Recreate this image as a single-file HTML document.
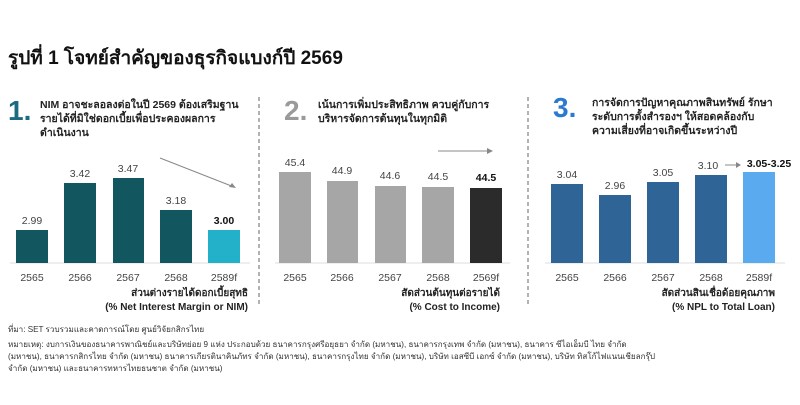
<!DOCTYPE html><html><head><meta charset="utf-8"><style>
body{margin:0;width:800px;height:400px;background:#fff;overflow:hidden;font-family:"Liberation Sans","Noto Sans CJK SC",sans-serif;}
svg text{font-family:"Liberation Sans","Noto Sans CJK SC",sans-serif;}
</style></head><body>
<svg width="800" height="400" xmlns="http://www.w3.org/2000/svg">
<text x="8" y="64" font-size="19" font-weight="bold" fill="#111">รูปที่ 1   โจทย์สำคัญของธุรกิจแบงก์ปี 2569</text>
<text x="8" y="120" font-size="28" font-weight="bold" fill="#1a6a80">1.</text>
<text x="284" y="120" font-size="28" font-weight="bold" fill="#9a9a9a">2.</text>
<text x="553" y="117" font-size="28" font-weight="bold" fill="#2a7ad0">3.</text>
<g font-size="10.5" font-weight="bold" fill="#222">
<text x="40" y="108">NIM อาจชะลอลงต่อในปี 2569 ต้องเสริมฐาน</text>
<text x="40" y="122">รายได้ที่มิใช่ดอกเบี้ยเพื่อประคองผลการ</text>
<text x="40" y="136">ดำเนินงาน</text>
<text x="318" y="108">เน้นการเพิ่มประสิทธิภาพ ควบคู่กับการ</text>
<text x="318" y="122">บริหารจัดการต้นทุนในทุกมิติ</text>
<text x="592" y="106">การจัดการปัญหาคุณภาพสินทรัพย์ รักษา</text>
<text x="592" y="120">ระดับการตั้งสำรองฯ ให้สอดคล้องกับ</text>
<text x="592" y="134">ความเสี่ยงที่อาจเกิดขึ้นระหว่างปี</text>
</g>
<g stroke="#666" stroke-dasharray="4,3" stroke-width="1"><line x1="259" y1="97" x2="259" y2="305"/><line x1="528" y1="97" x2="528" y2="305"/></g>
<g stroke="#ddd"><line x1="10" y1="263" x2="250" y2="263"/><line x1="275" y1="263" x2="510" y2="263"/><line x1="545" y1="263" x2="785" y2="263"/></g>
<g fill="#125660"><rect x="16" y="230" width="32" height="33"/><rect x="64" y="183" width="32" height="80"/><rect x="113" y="178" width="31" height="85"/><rect x="160" y="210" width="32" height="53"/></g>
<rect x="208" y="230" width="32" height="33" fill="#22b1c9"/>
<g font-size="10.5" fill="#444" text-anchor="middle"><text x="32" y="224">2.99</text><text x="80" y="177">3.42</text><text x="128" y="172">3.47</text><text x="176" y="204">3.18</text><text x="224" y="224" font-weight="bold" fill="#111">3.00</text>
<text x="32" y="281">2565</text><text x="80" y="281">2566</text><text x="128" y="281">2567</text><text x="176" y="281">2568</text><text x="224" y="281">2589f</text></g>
<line x1="160" y1="158" x2="234" y2="187" stroke="#888"/><path d="M236,188 l-7,-1 l3,-4z" fill="#888"/>
<g fill="#a6a6a6"><rect x="279" y="172" width="32" height="91"/><rect x="327" y="181" width="31" height="82"/><rect x="375" y="186" width="31" height="77"/><rect x="422" y="187" width="32" height="76"/></g>
<rect x="470" y="188" width="32" height="75" fill="#2b2b2b"/>
<g font-size="10.5" fill="#444" text-anchor="middle"><text x="295" y="166">45.4</text><text x="342" y="174">44.9</text><text x="390" y="179">44.6</text><text x="438" y="180">44.5</text><text x="486" y="181" font-weight="bold" fill="#111">44.5</text>
<text x="295" y="281">2565</text><text x="342" y="281">2566</text><text x="390" y="281">2567</text><text x="438" y="281">2568</text><text x="486" y="281">2569f</text></g>
<line x1="438" y1="151" x2="488" y2="151" stroke="#888"/><path d="M493,151 l-6,-3 v6z" fill="#888"/>
<g fill="#2f6496"><rect x="551" y="184" width="32" height="79"/><rect x="599" y="195" width="32" height="68"/><rect x="647" y="182" width="32" height="81"/><rect x="695" y="175" width="32" height="88"/></g>
<rect x="743" y="172" width="32" height="91" fill="#5aaaf0"/>
<g font-size="10.5" fill="#444" text-anchor="middle"><text x="567" y="178">3.04</text><text x="615" y="189">2.96</text><text x="663" y="176">3.05</text><text x="708" y="169">3.10</text><text x="769" y="167" font-weight="bold" fill="#111">3.05-3.25</text>
<text x="567" y="281">2565</text><text x="615" y="281">2566</text><text x="663" y="281">2567</text><text x="711" y="281">2568</text><text x="759" y="281">2589f</text></g>
<line x1="725" y1="165" x2="737" y2="165" stroke="#888"/><path d="M741,165 l-5,-3 v6z" fill="#888"/>
<g font-size="10" font-weight="bold" fill="#222" text-anchor="end">
<text x="248" y="296">ส่วนต่างรายได้ดอกเบี้ยสุทธิ</text><text x="248" y="310">(% Net Interest Margin or NIM)</text>
<text x="500" y="296">สัดส่วนต้นทุนต่อรายได้</text><text x="500" y="310">(% Cost to Income)</text>
<text x="775" y="296">สัดส่วนสินเชื่อด้อยคุณภาพ</text><text x="775" y="310">(% NPL to Total Loan)</text>
</g>
<g font-size="8.1" fill="#333">
<text x="8" y="332">ที่มา: SET รวบรวมและคาดการณ์โดย ศูนย์วิจัยกสิกรไทย</text>
<text x="8" y="347">หมายเหตุ: งบการเงินของธนาคารพาณิชย์และบริษัทย่อย 9 แห่ง ประกอบด้วย ธนาคารกรุงศรีอยุธยา จำกัด (มหาชน), ธนาคารกรุงเทพ จำกัด (มหาชน), ธนาคาร ซีไอเอ็มบี ไทย จำกัด</text>
<text x="8" y="359">(มหาชน), ธนาคารกสิกรไทย จำกัด (มหาชน) ธนาคารเกียรตินาคินภัทร จำกัด (มหาชน), ธนาคารกรุงไทย จำกัด (มหาชน), บริษัท เอสซีบี เอกซ์ จำกัด (มหาชน), บริษัท ทิสโก้ไฟแนนเชียลกรุ๊ป</text>
<text x="8" y="371">จำกัด (มหาชน) และธนาคารทหารไทยธนชาต จำกัด (มหาชน)</text>
</g>
</svg>
</body></html>
